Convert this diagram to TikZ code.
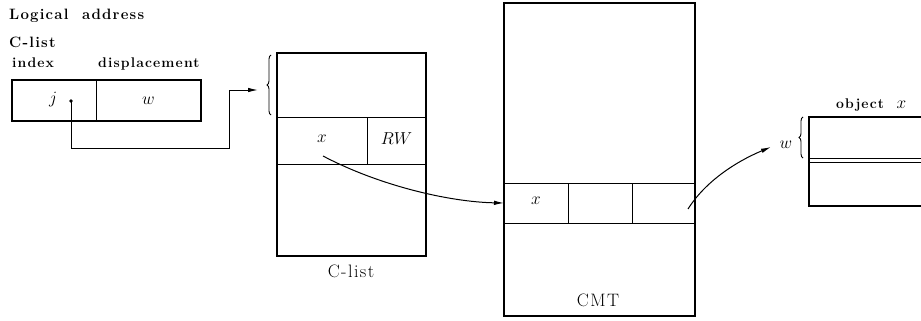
\documentclass[tikz,border=0pt]{standalone}
\usepackage{fontspec}
\newfontfamily\spaced[LetterSpace=8]{Latin Modern Roman}
\usetikzlibrary{decorations.pathreplacing,arrows.meta}
\begin{document}
\begin{tikzpicture}[x=1pt,y=-1pt,
  cell/.style={draw,line width=0.9pt,inner sep=0pt,outer sep=0pt,font=\fontsize{18}{20}\selectfont},
  outer/.style={draw,line width=1.4pt},
  biglab/.style={font=\spaced\bfseries\fontsize{15}{17}\selectfont,inner sep=0pt,anchor=base west},
  smalllab/.style={font=\spaced\bfseries\fontsize{14}{16}\selectfont,inner sep=0pt,anchor=base west},
  caption/.style={font=\spaced\fontsize{18}{20}\selectfont,inner sep=0pt,anchor=base},
  conn/.style={line width=1pt,-{Latex[length=10pt,width=4.5pt]}},
  brc/.style={decorate,decoration={brace,amplitude=4pt},line width=0.9pt}]
\useasboundingbox (0,0) rectangle (921,321);

% Logical address
\node[biglab] (title) at (9,20) {Logical\ \ address};
\node[biglab] (clt) at (9,48) {C-list};
\node[smalllab] (idx) at (12,68) {index};
\node[smalllab] (disp) at (98,68) {displacement};
\node[cell,minimum width=84pt,minimum height=41pt] (jc) at (54,100.5) {};
\node[cell,minimum width=105pt,minimum height=41pt] (wc) at (148.5,100.5) {$w$};
\draw[outer] (jc.north west) rectangle (wc.south east);
\node[font=\fontsize{18}{20}\selectfont] (jl) at (53,100) {$j$};
\coordinate (dot) at (71,101);
\fill (dot) circle (1.8);
\coordinate (bend) at (229,148);
\coordinate (tip1) at (258,90);
\draw[conn] (dot) -- (dot |- bend) -- (bend) -- (bend |- tip1) -- (tip1);

% C-list
\node[cell,minimum width=149pt,minimum height=64pt] (ctop) at (351.5,85) {};
\node[cell,minimum width=90pt,minimum height=47pt] (cx) at (322,140.5) {$x$\rule[-4pt]{0pt}{0pt}};
\node[cell,minimum width=59pt,minimum height=47pt] (crw) at (396.5,140.5) {$RW$\rule[-4pt]{0pt}{0pt}};
\node[cell,minimum width=149pt,minimum height=92pt] (cbot) at (351.5,210) {};
\draw[outer] (ctop.north west) rectangle (cbot.south east);
\draw[brc] (271,115) -- (271,55);
\node[caption] (cll) at (351,277) {C-list};

% CMT
\node[cell,minimum width=191pt,minimum height=180pt] (mtop) at (599.5,93) {};
\node[cell,minimum width=64pt,minimum height=40pt] (m1) at (536,203) {$x$\rule[-4pt]{0pt}{0pt}};
\node[cell,minimum width=64pt,minimum height=40pt] (m2) at (600,203) {};
\node[cell,minimum width=63pt,minimum height=40pt] (m3) at (663.5,203) {};
\node[cell,minimum width=191pt,minimum height=93pt] (mbot) at (599.5,269.5) {};
\draw[outer] (mtop.north west) rectangle (mbot.south east);
\node[caption] (cmt) at (598,306) {CMT};

\coordinate (s2) at (323,156);
\draw[conn] (s2) .. controls (380,186) and (450,202) .. (m1.west);

% object x
\coordinate (otl) at (809,117);
\coordinate (obl) at (809,206);
\draw[line width=1.2pt] (921,117) -- (otl) -- (obl) -- (921,206);
\draw[line width=0.9pt] (809,158) -- (921,158) (809,162) -- (921,162);
\node[smalllab] (objl) at (836,108) {object\ \ {\fontsize{17}{19}\selectfont$x$}};
\draw[brc] (803,158) -- (803,117);
\node[font=\fontsize{18}{20}\selectfont] (wl) at (786,145) {$w$};

\coordinate (s3) at (688,209);
\coordinate (tip3) at (771,147);
\draw[conn] (s3) .. controls (705,182) and (735,162) .. (tip3);
\end{tikzpicture}
\end{document}
